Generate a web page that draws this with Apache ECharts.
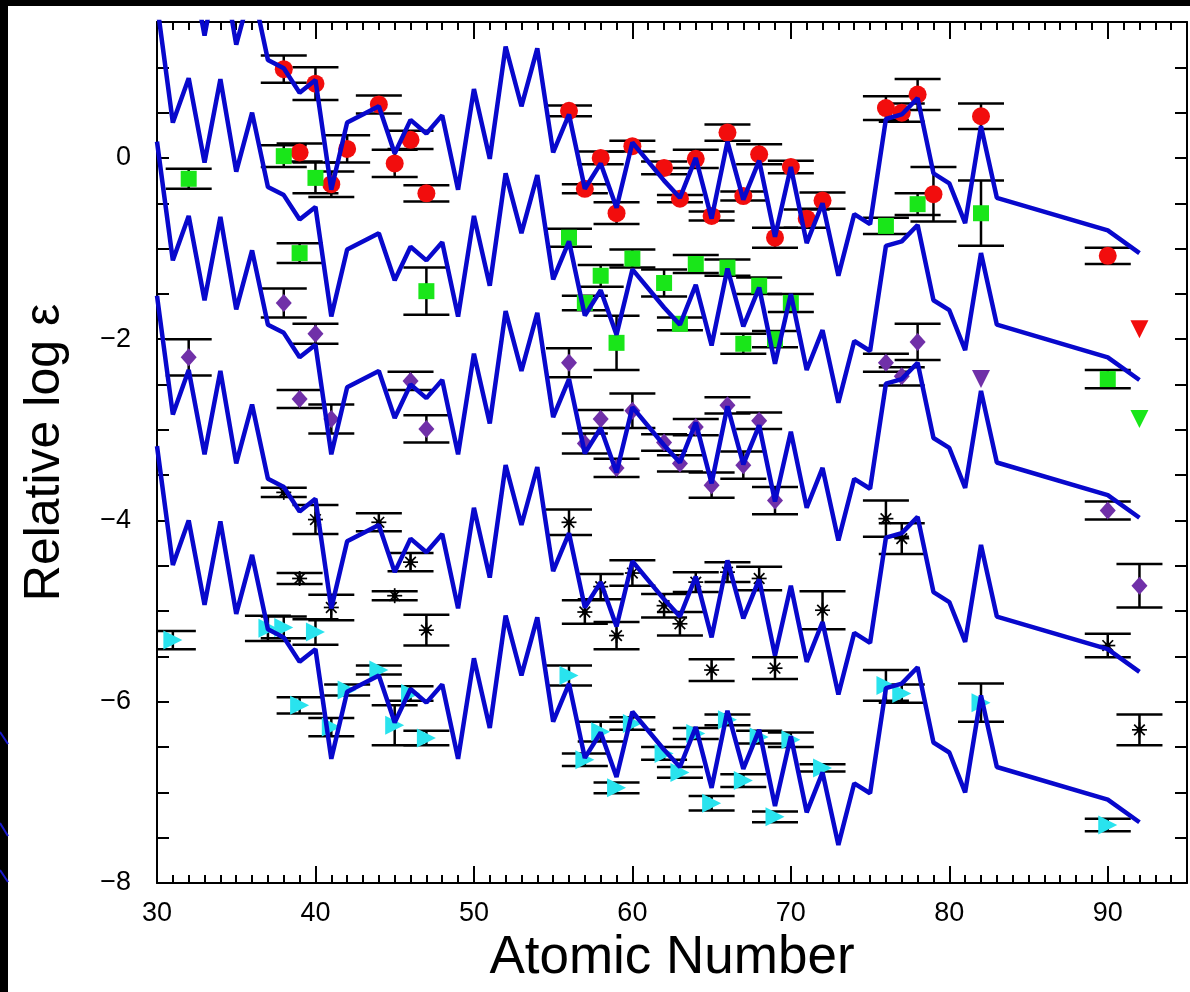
<!DOCTYPE html>
<html><head><meta charset="utf-8">
<script src="https://cdn.jsdelivr.net/npm/echarts@6/dist/echarts.min.js"></script>
<style>html,body{margin:0;padding:0;background:#fff}#c{width:1190px;height:992px}</style>
</head><body><div id="c"></div>
<script>
// ---- Model curves (scaled solar r-process pattern) ----
const Z_MODEL = [30,31,32,33,34,35,36,37,38,39,40,41,42,44,45,46,47,48,49,50,51,52,53,54,55,56,57,58,59,60,62,63,64,65,66,67,68,69,70,71,72,73,74,75,76,77,78,79,80,81,82,83,90,92];
const model1 = [3.10,1.79,2.28,1.35,2.27,1.25,1.90,1.08,0.99,0.72,0.86,-0.35,0.39,0.57,0.05,0.42,0.27,0.47,-0.35,0.76,-0.01,1.23,0.57,1.21,0.06,0.48,-0.34,-0.06,-0.55,0.17,-0.25,-0.44,0.00,-0.67,0.18,-0.46,-0.03,-0.87,-0.10,-0.94,-0.50,-1.30,-0.62,-0.73,0.43,0.48,0.66,-0.17,-0.28,-0.72,0.35,-0.44,-0.80,-1.05];
const model2 = [1.70,0.39,0.88,-0.05,0.87,-0.15,0.50,-0.32,-0.41,-0.68,-0.54,-1.75,-1.01,-0.83,-1.35,-0.98,-1.13,-0.93,-1.75,-0.64,-1.41,-0.17,-0.83,-0.19,-1.34,-0.92,-1.74,-1.46,-1.95,-1.23,-1.65,-1.84,-1.40,-2.07,-1.22,-1.86,-1.43,-2.27,-1.50,-2.34,-1.90,-2.70,-2.02,-2.13,-0.97,-0.92,-0.74,-1.57,-1.68,-2.12,-1.05,-1.84,-2.20,-2.45];
const model3 = [0.18,-1.13,-0.64,-1.57,-0.65,-1.67,-1.02,-1.84,-1.93,-2.20,-2.06,-3.27,-2.53,-2.35,-2.87,-2.50,-2.65,-2.45,-3.27,-2.16,-2.93,-1.69,-2.35,-1.71,-2.86,-2.44,-3.26,-2.98,-3.47,-2.75,-3.17,-3.36,-2.92,-3.59,-2.74,-3.38,-2.95,-3.79,-3.02,-3.86,-3.42,-4.22,-3.54,-3.65,-2.49,-2.44,-2.26,-3.09,-3.20,-3.64,-2.57,-3.36,-3.72,-3.97];
const model4 = [-1.52,-2.83,-2.34,-3.27,-2.35,-3.37,-2.72,-3.54,-3.63,-3.90,-3.76,-4.97,-4.23,-4.05,-4.57,-4.20,-4.35,-4.15,-4.97,-3.86,-4.63,-3.39,-4.05,-3.41,-4.56,-4.14,-4.96,-4.68,-5.17,-4.45,-4.87,-5.06,-4.62,-5.29,-4.44,-5.08,-4.65,-5.49,-4.72,-5.56,-5.12,-5.92,-5.24,-5.35,-4.19,-4.14,-3.96,-4.79,-4.90,-5.34,-4.27,-5.06,-5.42,-5.67];
const model5 = [-3.18,-4.49,-4.00,-4.93,-4.01,-5.03,-4.38,-5.20,-5.29,-5.56,-5.42,-6.63,-5.89,-5.71,-6.23,-5.86,-6.01,-5.81,-6.63,-5.52,-6.29,-5.05,-5.71,-5.07,-6.22,-5.80,-6.62,-6.34,-6.83,-6.11,-6.53,-6.72,-6.28,-6.95,-6.10,-6.74,-6.31,-7.15,-6.38,-7.22,-6.78,-7.58,-6.90,-7.01,-5.85,-5.80,-5.62,-6.45,-6.56,-7.00,-5.93,-6.72,-7.08,-7.33];

// ---- Star 1: red circles ----
const z1 = [38,39,40,41,42,44,45,46,47,56,57,58,59,60,62,63,64,65,66,67,68,69,70,71,72,76,77,78,79,82,90];
const v1 = [0.98,0.06,0.82,-0.29,0.10,0.59,-0.06,0.20,-0.39,0.52,-0.34,0.00,-0.61,0.13,-0.11,-0.45,-0.01,-0.64,0.28,-0.42,0.04,-0.88,-0.10,-0.67,-0.47,0.55,0.50,0.70,-0.40,0.46,-1.08];
const e1 = [0.15,0.10,0.18,0.14,0.15,0.10,0.15,0.10,0.09,0.06,0.05,0.07,0.12,0.06,0.07,0.04,0.10,0.05,0.09,0.05,0.11,0.11,0.07,0.10,0.09,0.13,0.10,0.17,0.30,0.14,0.09];
const lim1Z = [92], lim1V = [-1.89];

// ---- Star 2: green squares ----
const z2 = [32,38,39,40,47,56,57,58,59,60,62,63,64,66,67,68,69,70,76,78,82,90];
const v2 = [-0.23,0.02,-1.05,-0.22,-1.47,-0.88,-1.60,-1.30,-2.04,-1.11,-1.38,-1.83,-1.17,-1.21,-2.05,-1.41,-2.00,-1.60,-0.75,-0.51,-0.61,-2.44];
const e2 = [0.11,0.12,0.11,0.17,0.26,0.10,0.08,0.12,0.30,0.10,0.15,0.07,0.10,0.09,0.11,0.09,0.09,0.10,0.09,0.12,0.36,0.10];
const lim2Z = [92], lim2V = [-2.88];

// ---- Star 3: purple diamonds ----
const z3 = [32,38,39,40,41,46,47,56,57,58,59,60,62,63,64,65,66,67,68,69,76,77,78,90,92];
const v3 = [-2.20,-1.60,-2.66,-1.94,-2.88,-2.46,-2.99,-2.26,-3.15,-2.88,-3.42,-2.79,-3.14,-3.37,-2.97,-3.61,-2.73,-3.39,-2.90,-3.78,-2.26,-2.41,-2.03,-3.89,-4.72];
const e3 = [0.20,0.16,0.10,0.11,0.16,0.10,0.15,0.16,0.11,0.10,0.10,0.19,0.09,0.09,0.09,0.14,0.09,0.15,0.09,0.15,0.10,0.10,0.20,0.10,0.24];
const lim3Z = [82], lim3V = [-2.44];

// ---- Star 4: black asterisks ----
const z4 = [38,39,40,41,44,45,46,47,56,57,58,59,60,62,63,64,65,66,68,69,72,76,77,90,92];
const v4 = [-3.69,-4.64,-3.99,-4.96,-4.02,-4.83,-4.46,-5.21,-4.02,-5.01,-4.73,-5.27,-4.58,-4.94,-5.14,-4.68,-5.65,-4.57,-4.64,-5.63,-4.99,-3.98,-4.20,-5.38,-6.31];
const e4 = [0.05,0.06,0.16,0.14,0.10,0.05,0.10,0.17,0.14,0.13,0.14,0.15,0.14,0.13,0.13,0.11,0.12,0.11,0.13,0.12,0.21,0.20,0.17,0.13,0.17];

// ---- Star 5: cyan right triangles ----
const z5 = [31,37,38,39,40,41,42,44,45,46,47,56,57,58,59,60,62,63,64,65,66,67,68,69,70,72,76,77,82,90];
const v5 = [-5.32,-5.19,-5.18,-6.04,-5.23,-6.28,-5.87,-5.65,-6.26,-5.91,-6.40,-5.71,-6.64,-6.33,-6.95,-6.24,-6.57,-6.78,-6.35,-7.12,-6.20,-6.87,-6.39,-7.27,-6.42,-6.73,-5.82,-5.91,-6.01,-7.36];
const e5 = [0.10,0.14,0.12,0.09,0.14,0.10,0.06,0.05,0.22,0.08,0.08,0.11,0.07,0.11,0.06,0.07,0.07,0.06,0.06,0.08,0.06,0.07,0.07,0.06,0.08,0.04,0.17,0.10,0.21,0.07];

const X_TICKS = [30,40,50,60,70,80,90];
const Y_TICKS = [0,-2,-4,-6,-8];

const FONT = 'Liberation Sans, Arial, sans-serif';
const BLUE = '#0808cc';
const pairs = (zs, vs) => zs.map((z, i) => [z, vs[i]]);
const triples = (zs, vs, es) => zs.map((z, i) => [z, vs[i], es[i]]);

function errRender(params, api) {
  const z = api.value(0), v = api.value(1), e = api.value(2);
  const hi = api.coord([z, v + e]);
  const lo = api.coord([z, v - e]);
  const hw = 23;
  const st = {stroke: '#000', lineWidth: 2.5};
  return {type: 'group', children: [
    {type: 'line', shape: {x1: hi[0], y1: hi[1], x2: lo[0], y2: lo[1]}, style: st},
    {type: 'line', shape: {x1: hi[0]-hw, y1: hi[1], x2: hi[0]+hw, y2: hi[1]}, style: st},
    {type: 'line', shape: {x1: lo[0]-hw, y1: lo[1], x2: lo[0]+hw, y2: lo[1]}, style: st}
  ]};
}
function starRender(params, api) {
  const c = api.coord([api.value(0), api.value(1)]);
  const r = 7.5, d = 5.3;
  const st = {stroke: '#000', lineWidth: 1.7};
  return {type: 'group', children: [
    {type: 'line', shape: {x1: c[0]-r, y1: c[1], x2: c[0]+r, y2: c[1]}, style: st},
    {type: 'line', shape: {x1: c[0], y1: c[1]-r, x2: c[0], y2: c[1]+r}, style: st},
    {type: 'line', shape: {x1: c[0]-d, y1: c[1]-d, x2: c[0]+d, y2: c[1]+d}, style: st},
    {type: 'line', shape: {x1: c[0]-d, y1: c[1]+d, x2: c[0]+d, y2: c[1]-d}, style: st},
    {type: 'circle', shape: {cx: c[0], cy: c[1], r: 2.8}, style: {fill: '#000'}}
  ]};
}
function errSeries(zs, vs, es) {
  return {type: 'custom', renderItem: errRender, data: triples(zs, vs, es), encode: {x: 0, y: 1}, z: 1, silent: true, clip: true};
}
function lineSeries(vals) {
  return {type: 'line', data: pairs(Z_MODEL, vals), symbol: 'none', lineStyle: {color: BLUE, width: 4.5}, z: 5, silent: true, clip: true};
}
function scat(zs, vs, symbol, size, color, rot) {
  return {type: 'scatter', data: pairs(zs, vs), symbol: symbol, symbolSize: size, symbolRotate: rot || 0,
    itemStyle: {color: color, opacity: 1}, z: 3, silent: true};
}

const chart = echarts.init(document.getElementById('c'), null, {renderer: 'canvas'});
const axisCommon = {
  axisLine: {show: true, onZero: false, lineStyle: {color: '#000', width: 2}},
  splitLine: {show: false}
};
chart.setOption({
  animation: false,
  backgroundColor: '#fff',
  textStyle: {fontFamily: FONT},
  grid: {left: 157, right: -8, top: 22, bottom: 109, containLabel: false},
  xAxis: [
    Object.assign({}, axisCommon, {
      type: 'value', min: 30, max: 95, interval: 10, position: 'bottom',
      axisTick: {show: true, inside: true, length: 17, lineStyle: {color: '#000', width: 2}},
      minorTick: {show: true, splitNumber: 10, length: 8, lineStyle: {color: '#000', width: 2}},
      axisLabel: {show: true, margin: 17, color: '#000', fontSize: 27, fontFamily: FONT,
        formatter: v => X_TICKS.indexOf(v) >= 0 ? String(v) : ''},
      name: 'Atomic Number', nameLocation: 'middle', nameGap: 45,
      nameTextStyle: {color: '#000', fontSize: 53, fontFamily: FONT}
    }),
    Object.assign({}, axisCommon, {
      type: 'value', min: 30, max: 95, interval: 10, position: 'top',
      axisTick: {show: true, inside: true, length: 17, lineStyle: {color: '#000', width: 2}},
      minorTick: {show: true, splitNumber: 10, length: 8, lineStyle: {color: '#000', width: 2}},
      axisLabel: {show: false}
    })
  ],
  yAxis: [
    Object.assign({}, axisCommon, {
      type: 'value', min: -8, max: 1.5, interval: 0.5, position: 'left',
      axisTick: {show: true, inside: true, length: 12, lineStyle: {color: '#000', width: 2}},
      axisLabel: {show: true, margin: 26, color: '#000', fontSize: 27, fontFamily: FONT,
        formatter: v => {
          const k = Y_TICKS.indexOf(v);
          if (k < 0) return '';
          return v === 0 ? '0' : '\u2212' + Math.abs(v);
        }},
      name: 'Relative log \u03b5', nameLocation: 'middle', nameGap: 87, nameRotate: 90,
      nameTextStyle: {color: '#000', fontSize: 50, fontFamily: FONT}
    }),
    Object.assign({}, axisCommon, {
      type: 'value', min: -8, max: 1.5, interval: 0.5, position: 'right',
      axisTick: {show: true, inside: true, length: 12, lineStyle: {color: '#000', width: 2}},
      axisLabel: {show: false}
    })
  ],
  graphic: [
    {type: 'rect', shape: {x: 0, y: 0, width: 1190, height: 6}, style: {fill: '#000'}, z: 100},
    {type: 'rect', shape: {x: 0, y: 0, width: 8, height: 992}, style: {fill: '#000'}, z: 100},
    {type: 'line', shape: {x1: 0, y1: 732, x2: 8, y2: 744}, style: {stroke: '#1a1acc', lineWidth: 2}, z: 101},
    {type: 'line', shape: {x1: 0, y1: 823, x2: 8, y2: 836}, style: {stroke: '#1a1acc', lineWidth: 2}, z: 101},
    {type: 'line', shape: {x1: 0, y1: 870, x2: 8, y2: 882}, style: {stroke: '#1a1acc', lineWidth: 2}, z: 101}
  ],
  series: [
    errSeries(z1, v1, e1), errSeries(z2, v2, e2), errSeries(z3, v3, e3), errSeries(z4, v4, e4), errSeries(z5, v5, e5),
    scat(z1, v1, 'circle', 18, '#f20d0d'),
    scat(lim1Z, lim1V, 'triangle', 18, '#f20d0d', 180),
    scat(z2, v2, 'rect', 16, '#19e619'),
    scat(lim2Z, lim2V, 'triangle', 18, '#19e619', 180),
    scat(z3, v3, 'diamond', [16, 18], '#7030a8'),
    scat(lim3Z, lim3V, 'triangle', 18, '#7030a8', 180),
    {type: 'custom', renderItem: starRender, data: pairs(z4, v4), encode: {x: 0, y: 1}, z: 3, clip: true, silent: true},
    scat(z5, v5, 'triangle', 19, '#29e3ee', -90),
    lineSeries(model1), lineSeries(model2), lineSeries(model3), lineSeries(model4), lineSeries(model5)
  ]
});
</script></body></html>
